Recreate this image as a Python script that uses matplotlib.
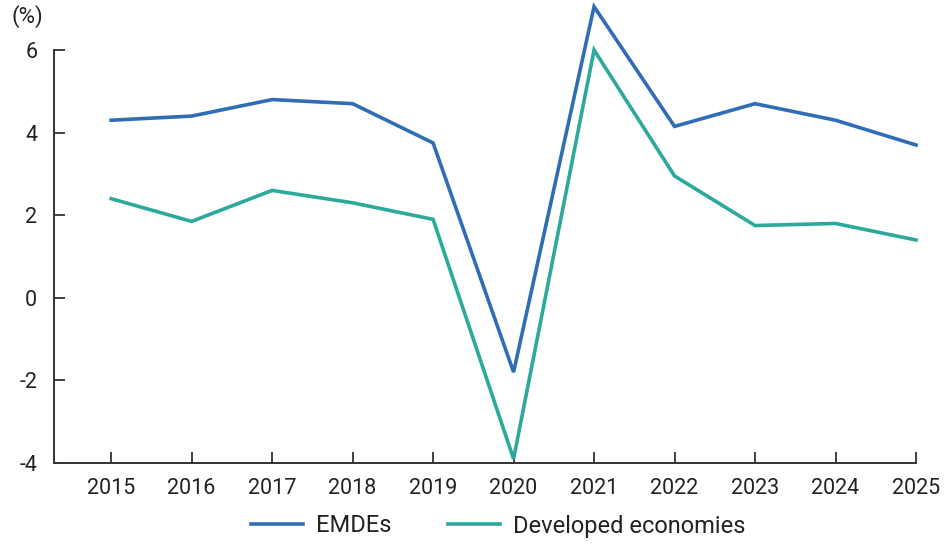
import matplotlib
matplotlib.use("Agg")
import matplotlib.pyplot as plt

plt.rcParams["font.family"] = ["Roboto", "DejaVu Sans"]
plt.rcParams["axes.unicode_minus"] = False

years = [2015, 2016, 2017, 2018, 2019, 2020, 2021, 2022, 2023, 2024, 2025]
emdes = [4.3, 4.4, 4.8, 4.7, 3.75, -1.8, 7.05, 4.15, 4.7, 4.3, 3.7]
developed = [2.4, 1.85, 2.6, 2.3, 1.9, -3.9, 6.0, 2.95, 1.75, 1.8, 1.4]
yticks = [-4, -2, 0, 2, 4, 6]

blue = "#2F6DB5"
teal = "#2BA99B"
ink = "#333333"

W, H = 946, 544
fig = plt.figure(figsize=(W / 100, H / 100), dpi=100)
ax = fig.add_axes([54 / W, (H - 463) / H, (916 - 54) / W, (463 - 50) / H])

ax.plot(years, emdes, color=blue, lw=2.6, label="EMDEs", clip_on=False,
        solid_joinstyle="miter")
ax.plot(years, developed, color=teal, lw=2.6, label="Developed economies",
        clip_on=False, solid_joinstyle="miter")

ax.set_xlim(2014.29, 2025)
ax.set_ylim(-4, 6)
ax.set_xticks(years)
ax.set_yticks(yticks)
ax.set_yticklabels([str(v) for v in yticks])

for side in ("top", "right"):
    ax.spines[side].set_visible(False)
for side in ("left", "bottom"):
    ax.spines[side].set_color(ink)
    ax.spines[side].set_linewidth(1.4)

ax.tick_params(axis="both", direction="in", length=8, width=1.3, color=ink,
               labelcolor="#222222", labelsize=15.5)
ax.tick_params(axis="x", pad=11)
ax.tick_params(axis="y", pad=12)

fig.text(11 / W, 1 - 17 / H, "(%)", fontsize=16, color="#222222",
         ha="left", va="center")

fig.legend(loc="center", bbox_to_anchor=(498 / W, (H - 526) / H), ncol=2,
           frameon=False, fontsize=17, handlelength=2.2, handletextpad=0.55,
           columnspacing=2.4, labelcolor="#222222")

fig.savefig("out.png", dpi=100)
